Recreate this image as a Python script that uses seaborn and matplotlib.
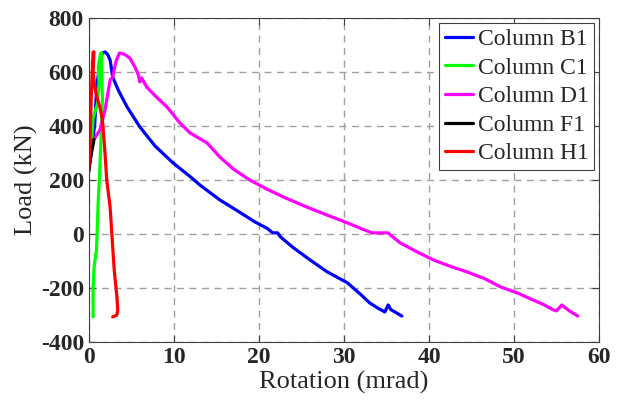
import matplotlib
matplotlib.use("Agg")
import matplotlib.pyplot as plt
import pandas as pd
import seaborn as sns

# Load-rotation curves
b1_rot = [0.0, 0.1, 0.4, 0.7, 0.9, 1.3, 1.6, 1.9, 2.2, 2.5, 2.8, 3.5, 4.5, 6.0, 7.8, 9.9,
          12.0, 13.1, 15.4, 17.5, 19.5, 21.0, 21.6, 22.2, 22.5, 24.0, 26.0, 28.0, 30.4,
          32.0, 33.0, 34.0, 34.8, 35.2, 35.5, 36.8]
b1_load = [240, 260, 330, 411, 533, 644, 670, 674, 665, 644, 581, 530, 470, 396, 325, 263,
           210, 180, 126, 85, 45, 20, 4, 4, -10, -50, -96, -140, -181,
           -225, -255, -275, -289, -263, -280, -304]

c1_rot = [0.3, 0.5, 0.8, 1.0, 1.2, 1.1, 1.4, 1.5, 1.5, 1.6, 1.5, 1.4, 1.3, 1.2, 1.1, 1.0,
          0.9, 0.7, 0.6, 0.5, 0.5]
c1_load = [330, 430, 460, 480, 560, 620, 670, 670, 600, 500, 420, 330, 250, 180, 120, 30,
           -60, -100, -130, -200, -307]

d1_rot = [0.2, 0.35, 0.8, 1.3, 1.9, 2.5, 2.8, 3.2, 3.6, 4.2, 4.8, 5.4, 5.8, 6.0, 6.2, 6.8,
          8.0, 9.2, 10.7, 11.9, 13.9, 15.4, 17.0, 18.9, 21.0, 23.0, 25.6, 28.0, 30.4, 32.0,
          33.3, 35.2, 35.5, 36.6, 38.5, 40.5, 42.5, 44.5, 46.5, 48.4, 50.5, 52.2, 53.5,
          54.6, 55.0, 55.6, 56.5, 57.5]
d1_load = [300, 337, 360, 385, 459, 570, 581, 640, 670, 665, 652, 619, 590, 563, 578, 544,
           505, 470, 411, 374, 337, 285, 240, 200, 165, 135, 100, 70, 41, 20,
           4, 4, -5, -33, -65, -96, -120, -141, -165, -196, -220, -244, -262,
           -281, -285, -263, -285, -304]

f1_rot = [0.0, 0.1, 0.3, 0.5, 0.6]
f1_load = [230, 260, 300, 330, 350]

h1_rot = [0.0, 0.1, 0.2, 0.3, 0.4, 0.5, 0.6, 0.5, 0.7, 1.0, 1.3, 1.6, 1.9, 2.1, 2.5, 2.8,
          3.0, 3.3, 3.4, 3.3, 3.0, 2.8]
h1_load = [240, 300, 420, 520, 600, 674, 674, 600, 544, 500, 470, 422, 300, 200, 100, -48,
           -140, -233, -281, -300, -305, -307]

names = ['Column B1', 'Column C1', 'Column D1', 'Column F1', 'Column H1']
colors = ['#0000ff', '#00ff00', '#ff00ff', '#000000', '#ff0000']

frames = []
for name, rot, load in zip(names,
                           [b1_rot, c1_rot, d1_rot, f1_rot, h1_rot],
                           [b1_load, c1_load, d1_load, f1_load, h1_load]):
    frames.append(pd.DataFrame({'Rotation': rot, 'Load': load, 'Column': name}))
df = pd.concat(frames, ignore_index=True)

sns.set_style('ticks')
plt.rcParams['font.family'] = ['Liberation Serif', 'DejaVu Serif']
plt.rcParams['axes.unicode_minus'] = False

fig = plt.figure(figsize=(6.17, 4.16), dpi=100)
ax = fig.add_axes([0.144, 0.178, 0.827, 0.779])

sns.lineplot(data=df, x='Rotation', y='Load', hue='Column', hue_order=names,
             palette=dict(zip(names, colors)), sort=False, estimator=None,
             linewidth=2.3, ax=ax)

ax.set_xlim(0, 60)
ax.set_ylim(-400, 800)
ax.set_xticks(range(0, 61, 10))
ax.set_yticks(range(-400, 801, 200))
ax.grid(True, linestyle=(0, (5, 4)), color='#a0a0a0', linewidth=1.0)
ax.tick_params(direction='in', top=True, right=True, labelsize=17, length=5,
               color='#404040')
for lab in ax.get_xticklabels() + ax.get_yticklabels():
    lab.set_fontweight('bold')
for sp in ax.spines.values():
    sp.set_color('#404040')
    sp.set_linewidth(0.8)

ax.set_xlabel('Rotation (mrad)', fontsize=19, labelpad=2)
ax.set_ylabel('Load (kN)', fontsize=19, labelpad=2)

leg = ax.legend(loc='upper right', fontsize=17, frameon=True, fancybox=False,
                edgecolor='#404040', framealpha=1, handlelength=1.2,
                handletextpad=0.2, borderpad=0.25, labelspacing=0.3,
                borderaxespad=0.2)
leg.get_frame().set_linewidth(0.8)

fig.savefig('out.png', dpi=100)
